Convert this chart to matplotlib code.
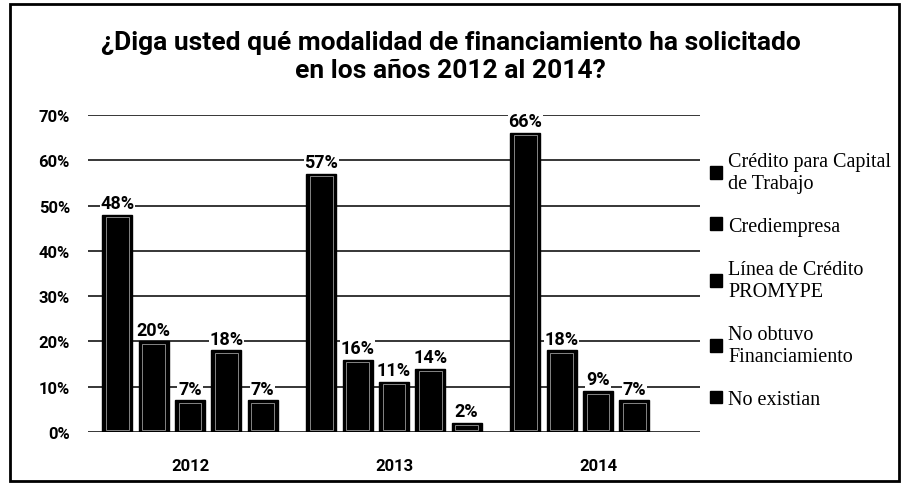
import numpy as np
from matplotlib import pyplot as plt
from matplotlib.patches import Rectangle

years = ["2012", "2013", "2014"]
series = [
    "Crédito para Capital\nde Trabajo",
    "Crediempresa",
    "Línea de Crédito\nPROMYPE",
    "No obtuvo\nFinanciamiento",
    "No existian",
]
credito_capital = [48, 57, 66]
crediempresa = [20, 16, 18]
linea_promype = [7, 11, 9]
no_obtuvo = [18, 14, 7]
no_existian = [7, 2, np.nan]
values = [credito_capital, crediempresa, linea_promype, no_obtuvo, no_existian]
yticks = [0, 10, 20, 30, 40, 50, 60, 70]

title = "¿Diga usted qué modalidad de financiamiento ha solicitado\nen los años 2012 al 2014?"

sans = ["Roboto", "DejaVu Sans"]


def main():
    fig = plt.figure(figsize=(9.01, 4.85), dpi=100)
    ax = fig.add_axes([88 / 901, 52 / 485, 612 / 901, 317 / 485])

    x = np.arange(len(years))
    step = 0.178
    width = 0.146

    for i, (name, vals) in enumerate(zip(series, values)):
        pos = x + (i - 2) * step
        bars = ax.bar(pos, vals, width, color="black", edgecolor="black",
                      linewidth=1, label=name, zorder=3)
        # thin light bevel inside each bar
        for b in bars:
            h = b.get_height()
            if np.isnan(h) or h <= 0:
                continue
            ax.add_patch(Rectangle((b.get_x() + width * 0.12, 0.5),
                                   width * 0.76, h - 1.0, fill=False,
                                   edgecolor="#9a9a9a", linewidth=0.6, zorder=4))
        for p, v in zip(pos, vals):
            if np.isnan(v):
                continue
            ax.annotate(f"{v:.0f}%", (p, v), xytext=(0, 2), textcoords="offset points",
                        ha="center", va="bottom", fontsize=13, fontweight="bold",
                        family=sans, zorder=5,
                        bbox=dict(facecolor="white", edgecolor="none", pad=0.5))

    ax.set_xlim(-0.5, 2.5)
    ax.set_ylim(0, 70)
    ax.set_yticks(yticks)
    ax.set_yticklabels([f"{t}%" for t in yticks], fontsize=12, fontweight="bold", family=sans)
    ax.set_xticks(x)
    ax.set_xticklabels(years, fontsize=12, fontweight="bold", family=sans)
    ax.tick_params(axis="y", length=0, pad=13)
    ax.tick_params(axis="x", length=0, pad=19)
    ax.yaxis.grid(True, color="black", linewidth=1.1, zorder=0)
    ax.set_axisbelow(True)
    for s in ax.spines.values():
        s.set_visible(False)

    ax.legend(loc="upper left", bbox_to_anchor=(1.0, 0.915), frameon=False,
              prop={"family": "Liberation Serif", "size": 14.5},
              handlelength=0.6, handleheight=0.6, handletextpad=0.3,
              labelspacing=1.2, borderaxespad=0.1)

    fig.text(0.5, 0.8825, title, ha="center", va="center", fontsize=19,
             fontweight="bold", family=sans, linespacing=1.2)

    # outer frame
    fig.patches.append(Rectangle((10 / 901, 3 / 485), 889 / 901, 477 / 485,
                                 transform=fig.transFigure, fill=False,
                                 edgecolor="black", linewidth=2))

    fig.savefig("out.png", dpi=100)


if __name__ == "__main__":
    main()
